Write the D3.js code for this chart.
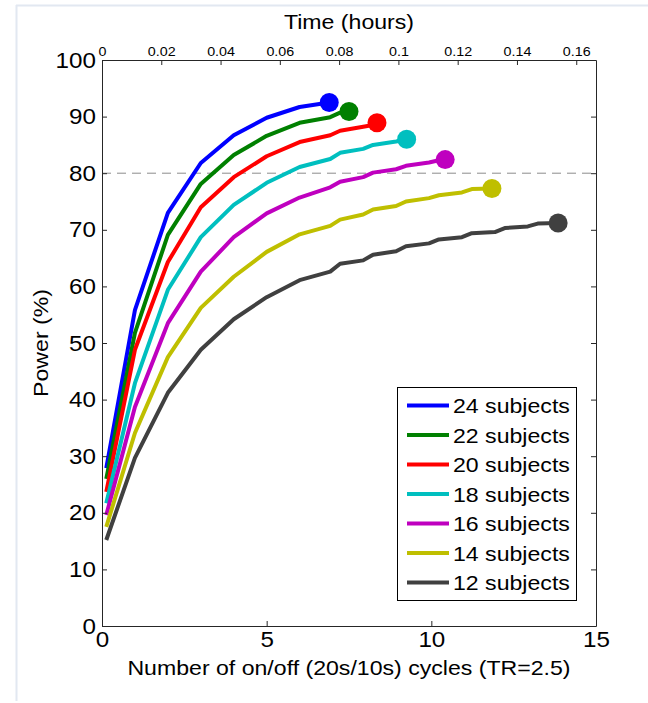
<!DOCTYPE html>
<html><head><meta charset="utf-8">
<script src="https://cdn.jsdelivr.net/npm/d3@7"></script>
<style>
body{margin:0;background:#fff;}
text{font-family:"Liberation Sans",Arial,Helvetica,sans-serif;fill:#000;}
</style>
</head><body><svg id="chart" width="648" height="703"></svg>
<script>
// ---- data ----
const seriesLabels = ["24 subjects","22 subjects","20 subjects","18 subjects","16 subjects","14 subjects","12 subjects"];
const seriesColors = ["#0000ff","#008000","#ff0000","#00bfbf","#bf00bf","#bfbf00","#404040"];
const cycleGrid = [0.13, 1, 2, 3, 4, 5, 6, 6.93, 7.23, 7.93, 8.23, 8.93, 9.23, 9.93, 10.23, 10.93, 11.23, 11.93, 12.23, 12.93, 13.23];
const power24 = [27.9, 55.8, 73.0, 81.8, 86.7, 89.8, 91.7];
const power22 = [26.0, 51.8, 69.1, 78.1, 83.2, 86.6, 88.9, 89.9, 90.7];
const power20 = [23.7, 48.8, 64.3, 74.0, 79.3, 83.0, 85.5, 86.7, 87.5, 88.2, 88.5];
const power18 = [21.7, 42.9, 59.4, 68.7, 74.4, 78.3, 81.1, 82.5, 83.6, 84.3, 85.0, 85.6];
const power16 = [19.6, 38.7, 53.5, 62.6, 68.7, 72.9, 75.7, 77.5, 78.5, 79.3, 80.1, 80.7, 81.3, 81.9, 82.3];
const power14 = [17.5, 34.1, 47.5, 56.2, 61.7, 66.1, 69.2, 70.7, 71.8, 72.7, 73.6, 74.2, 75.0, 75.6, 76.1, 76.6, 77.2];
const power12 = [15.2, 29.7, 41.2, 48.8, 54.2, 58.1, 61.1, 62.6, 64.0, 64.6, 65.6, 66.2, 67.1, 67.6, 68.3, 68.7, 69.4, 69.6, 70.3, 70.6, 71.1];
const endCycles = [6.9, 7.5, 8.35, 9.25, 10.42, 11.84, 13.85];
const endPower  = [92.5, 90.9, 88.9, 86.0, 82.4, 77.3, 71.2];
const powerTicks = [0,10,20,30,40,50,60,70,80,90,100];
const cycleTicks = [0,5,10,15];
const hourTicks = [0,0.02,0.04,0.06,0.08,0.1,0.12,0.14,0.16];
const hourTickLabels = ["0","0.02","0.04","0.06","0.08","0.1","0.12","0.14","0.16"];
const thresholdPower = 80;

// ---- layout ----
const svg = d3.select("#chart");
const L = 102, R = 596, T = 60, B = 626;
const x = d3.scaleLinear().domain([0,15]).range([L,R]);
const xTop = d3.scaleLinear().domain([0,15/90]).range([L,R]);
const y = d3.scaleLinear().domain([0,100]).range([B,T]);

// page frame
svg.append("line").attr("x1",16).attr("x2",648).attr("y1",5.5).attr("y2",5.5).attr("stroke","#e2e8f1").attr("stroke-width",2);
svg.append("line").attr("x1",16.5).attr("x2",16.5).attr("y1",5).attr("y2",701).attr("stroke","#e2e8f1").attr("stroke-width",2);

// threshold dashed line
svg.append("line").attr("x1",L).attr("x2",R).attr("y1",y(thresholdPower)).attr("y2",y(thresholdPower))
  .attr("stroke","#8c8c8c").attr("stroke-width",1).attr("stroke-dasharray","9,6");

// curves
const allPowers = [power24,power22,power20,power18,power16,power14,power12];
const line = d3.line().x(d=>x(d[0])).y(d=>y(d[1]));
allPowers.forEach((p,i)=>{
  const pts = p.map((v,j)=>[cycleGrid[j], v]);
  pts.push([endCycles[i], endPower[i]]);
  svg.append("path").datum(pts).attr("d",line).attr("fill","none")
    .attr("stroke",seriesColors[i]).attr("stroke-width",4).attr("stroke-linejoin","round");
  svg.append("circle").attr("cx",x(endCycles[i])).attr("cy",y(endPower[i])).attr("r",9.5).attr("fill",seriesColors[i]);
});

// axes
const axisColor = "#262626";
function styleAxis(g){
  g.selectAll("path,line").attr("stroke",axisColor).attr("stroke-width",1);
  g.attr("font-family",null).attr("font-size",null);
}
svg.append("g").attr("transform",`translate(${L},0)`)
  .call(d3.axisLeft(y).tickValues(powerTicks).tickSizeInner(-5).tickSizeOuter(0).tickPadding(6))
  .call(styleAxis).selectAll("text").attr("font-size",22);
svg.append("g").attr("transform",`translate(${R},0)`)
  .call(d3.axisRight(y).tickValues(powerTicks).tickSizeInner(-5).tickSizeOuter(0).tickFormat(""))
  .call(styleAxis);
svg.append("g").attr("transform",`translate(0,${B})`)
  .call(d3.axisBottom(x).tickValues(cycleTicks).tickSizeInner(-5).tickSizeOuter(0).tickPadding(5))
  .call(styleAxis).selectAll("text").attr("font-size",22);
svg.append("g").attr("transform",`translate(0,${T})`)
  .call(d3.axisTop(xTop).tickValues(hourTicks).tickSizeInner(-5).tickSizeOuter(0).tickPadding(4)
    .tickFormat((d,i)=>hourTickLabels[i]))
  .call(styleAxis).selectAll("text").attr("font-size",13);

// titles
svg.append("text").attr("x",349).attr("y",29).attr("text-anchor","middle").attr("font-size",21).text("Time (hours)");
svg.append("text").attr("x",349).attr("y",675).attr("text-anchor","middle").attr("font-size",21).text("Number of on/off (20s/10s) cycles (TR=2.5)");
svg.append("text").attr("transform",`translate(48,${(T+B)/2}) rotate(-90)`).attr("text-anchor","middle").attr("font-size",21).text("Power (%)");

// legend
const lg = svg.append("g");
lg.append("rect").attr("x",397.5).attr("y",387.5).attr("width",179).attr("height",213)
  .attr("fill","#fff").attr("stroke","#000").attr("stroke-width",1);
seriesLabels.forEach((s,i)=>{
  const yy = 405.5 + i*29.5;
  lg.append("line").attr("x1",407).attr("x2",449).attr("y1",yy).attr("y2",yy).attr("stroke",seriesColors[i]).attr("stroke-width",4);
  lg.append("text").attr("x",453).attr("y",yy).attr("dy","0.36em").attr("font-size",21).text(s);
});

// slight horizontal stretch of text to match the reference rendering
svg.selectAll("text").each(function(){
  const t = d3.select(this);
  if (!t.text()) return;
  const w = this.getComputedTextLength();
  t.attr("textLength", w*1.1).attr("lengthAdjust","spacingAndGlyphs");
});
</script>
</body></html>
